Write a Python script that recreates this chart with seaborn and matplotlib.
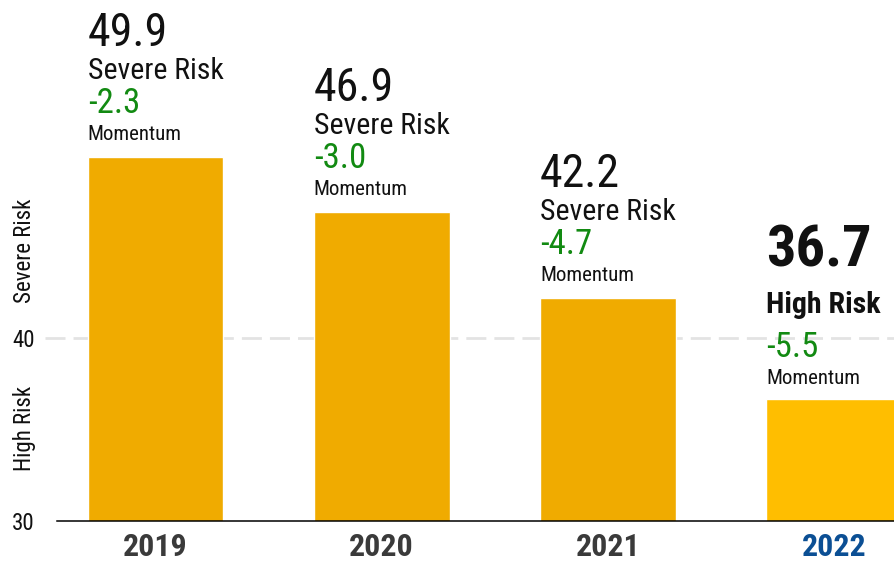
import matplotlib
matplotlib.use("Agg")
import matplotlib.pyplot as plt
from matplotlib import font_manager as fm
import pandas as pd
import seaborn as sns

# Data
years = ["2019", "2020", "2021", "2022"]
scores = [49.9, 46.9, 42.2, 36.7]
risk_labels = ["Severe Risk", "Severe Risk", "Severe Risk", "High Risk"]
momentum = [-2.3, -3.0, -4.7, -5.5]
y_ticks = [30, 40]
band_labels = ["High Risk", "Severe Risk"]

BAR = "#F0AB00"
BAR_HL = "#FFBE00"
GREEN = "#128A12"
TEXT = "#111111"
TICK = "#3A3A3A"
TICK_HL = "#0B4F94"

sns.set_theme(style="white")
available = {f.name for f in fm.fontManager.ttflist}
FONT = next((c for c in ["Roboto Condensed", "Liberation Sans Narrow", "Roboto"]
             if c in available), "DejaVu Sans")
plt.rcParams["font.family"] = [FONT, "DejaVu Sans"]
plt.rcParams["lines.scale_dashes"] = False

W, H, DPI = 895, 563, 100
fig = plt.figure(figsize=(W / DPI, H / DPI), dpi=DPI)
ax = fig.add_axes([57 / W, 42 / H, 1 - 57 / W, 1 - 42 / H])

df = pd.DataFrame({"year": years, "score": scores})
palette = {y: (BAR_HL if i == len(years) - 1 else BAR) for i, y in enumerate(years)}
sns.barplot(data=df, x="year", y="score", hue="year", palette=palette,
            width=0.6, saturation=1, legend=False, ax=ax, zorder=3)

ax.set_ylim(30, 58.5)
ax.set_xlim(-0.436, 3.27)

# dashed boundary between risk bands
ax.plot([-0.0143, 1], [40, 40], transform=ax.get_yaxis_transform(),
        color="#E3E3E3", lw=2, ls=(0, (14.4, 5.8)), clip_on=False, zorder=1)

for s in ["left", "right", "top"]:
    ax.spines[s].set_visible(False)
ax.spines["bottom"].set_color("#000000")
ax.spines["bottom"].set_linewidth(1.1)
ax.spines["bottom"].set_zorder(5)

ax.set_xlabel("")
ax.set_ylabel("")
ax.set_yticks(y_ticks)
ax.set_yticklabels([str(t) for t in y_ticks], fontsize=16.5, color=TEXT)
ax.tick_params(axis="y", length=0, pad=16)
ax.set_xticks(range(len(years)))
ax.set_xticklabels(years, fontsize=23, fontweight="bold")
ax.tick_params(axis="x", length=0, pad=8)
for i, lab in enumerate(ax.get_xticklabels()):
    lab.set_color(TICK_HL if i == len(years) - 1 else TICK)

# rotated band labels left of the axis
band_pos = [35.05, 44.8]
for lab, yv in zip(band_labels, band_pos):
    ax.text(-0.039, yv, lab, transform=ax.get_yaxis_transform(), rotation=90,
            ha="center", va="center", fontsize=16.5, color=TEXT, clip_on=False)

# stacked annotations above each bar
PX = 0.72
for i, (v, rl, m) in enumerate(zip(scores, risk_labels, momentum)):
    hl = i == len(years) - 1
    x0 = i - 0.3
    offs = [15, 42, 86, 132] if hl else [17, 44, 78, 111]
    w = "bold" if hl else "normal"
    items = [
        ("Momentum", 15, "normal", TEXT),
        (f"{m:.1f}", 25, "normal", GREEN),
        (rl, 21.5, w, TEXT),
        (f"{v:.1f}", 42 if hl else 33, w, TEXT),
    ]
    for (txt, fs, fw, col), off in zip(items, offs):
        ax.annotate(txt, xy=(x0, v), xytext=(0, off * PX), textcoords="offset points",
                    ha="left", va="baseline", fontsize=fs, fontweight=fw,
                    color=col, annotation_clip=False)

fig.savefig("out.png", dpi=DPI)
